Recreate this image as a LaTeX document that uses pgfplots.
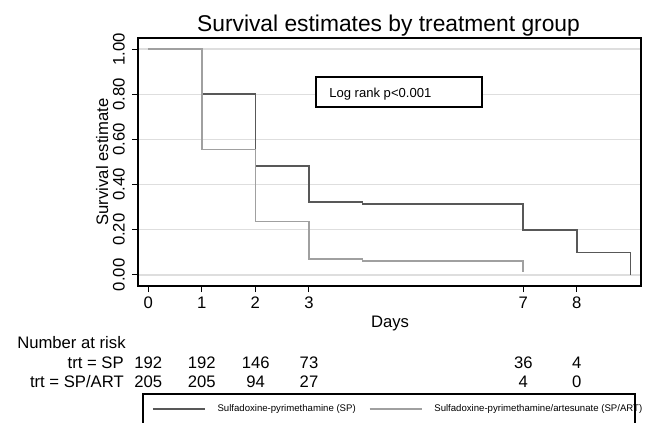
\documentclass[border=0pt]{standalone}
\usepackage{pgfplots}
\pgfplotsset{compat=1.18}
\usepackage{fontspec}
\setmainfont{Liberation Sans}
\definecolor{spcol}{RGB}{88,88,88}
\definecolor{artcol}{RGB}{160,160,160}
\definecolor{gridcol}{RGB}{222,222,222}
\newcommand{\fs}[1]{\fontsize{#1}{#1}\selectfont}
\begin{document}
\begin{tikzpicture}
% page = 645 x 422 px, 1 px = 0.75pt
\useasboundingbox (0,0) rectangle (483.75pt,316.5pt);
\begin{axis}[
    at={(103.5pt,102pt)}, anchor=south west,
    scale only axis, width=377.25pt, height=186pt,
    xmin=-0.19, xmax=9.2, ymin=-0.049, ymax=1.049,
    xtick={0,1,2,3,7,8},
    ytick={0,0.2,0.4,0.6,0.8,1},
    tick pos=left, tick align=outside,
    major tick length=4.5pt,
    tick style={black, line width=0.8pt},
    axis line style={black, line width=0.9pt},
    ymajorgrids, grid style={gridcol, line width=0.9pt},
    /pgf/number format/assume math mode=true,
    ticklabel style={font=\fs{12.5}},
    yticklabel style={xshift=-5.5pt, rotate=90, anchor=base, /pgf/number format/.cd, fixed, fixed zerofill, precision=2},
    xlabel={Days}, ylabel={Survival estimate},
    label style={font=\fs{12.5}},
    xlabel style={at={(axis description cs:0.501,-0.169)}, anchor=base},
    ylabel style={at={(axis description cs:-0.0596,0.5)}, anchor=base},
    legend columns=2,
    legend style={draw=none, fill=none, at={(axis description cs:0.0272,-0.496)}, anchor=west,
        font=\fs{7.2}, inner sep=0pt, nodes={inner sep=0pt},
        /tikz/every odd column/.append style={column sep=9pt},
        /tikz/every even column/.append style={column sep=9.75pt}},
    legend cell align=left,
    legend image code/.code={\draw[#1] (0pt,0pt) -- (39pt,0pt);},
]
\addplot[const plot, spcol, line width=1.2pt] coordinates {
    (0,1) (1,0.80) (2,0.481) (3,0.322) (4,0.315) (7,0.200) (8,0.100) (9,0)
};
\addlegendentry{Sulfadoxine-pyrimethamine (SP)}
\addplot[const plot, artcol, line width=1.2pt] coordinates {
    (0,1) (1,0.555) (2,0.236) (3,0.071) (4,0.061) (7,0.015)
};
\addlegendentry{Sulfadoxine-pyrimethamine/artesunate (SP/ART)}
\end{axis}
\begin{scope}[x=0.75pt, y=0.75pt, every node/.style={inner sep=0pt}]
\node[anchor=base, font=\fs{17.1}] at (388.5,390) {Survival estimates by treatment group};
\draw[black, line width=0.8pt, fill=white] (316,345) rectangle (482,315);
\node[anchor=base west, font=\fs{9.8}] at (329,325) {Log rank p<0.001};
\node[anchor=base west, font=\fs{12.5}] at (17,74) {Number at risk};
\node[anchor=base east, font=\fs{12.5}] at (124,54) {trt = SP};
\node[anchor=base east, font=\fs{12.5}] at (124,35) {trt = SP/ART};
\foreach \x/\a/\b in {148.3/192/205, 201.7/192/205, 255.7/146/94, 309/73/27, 523.3/36/4, 576.7/4/0} {
  \node[anchor=base, font=\fs{12.5}] at (\x,54) {\a};
  \node[anchor=base, font=\fs{12.5}] at (\x,35) {\b};
}
\draw[black, line width=0.8pt] (143,-20) -- (143,28) -- (635,28) -- (635,-20);
\end{scope}
\end{tikzpicture}
\end{document}
